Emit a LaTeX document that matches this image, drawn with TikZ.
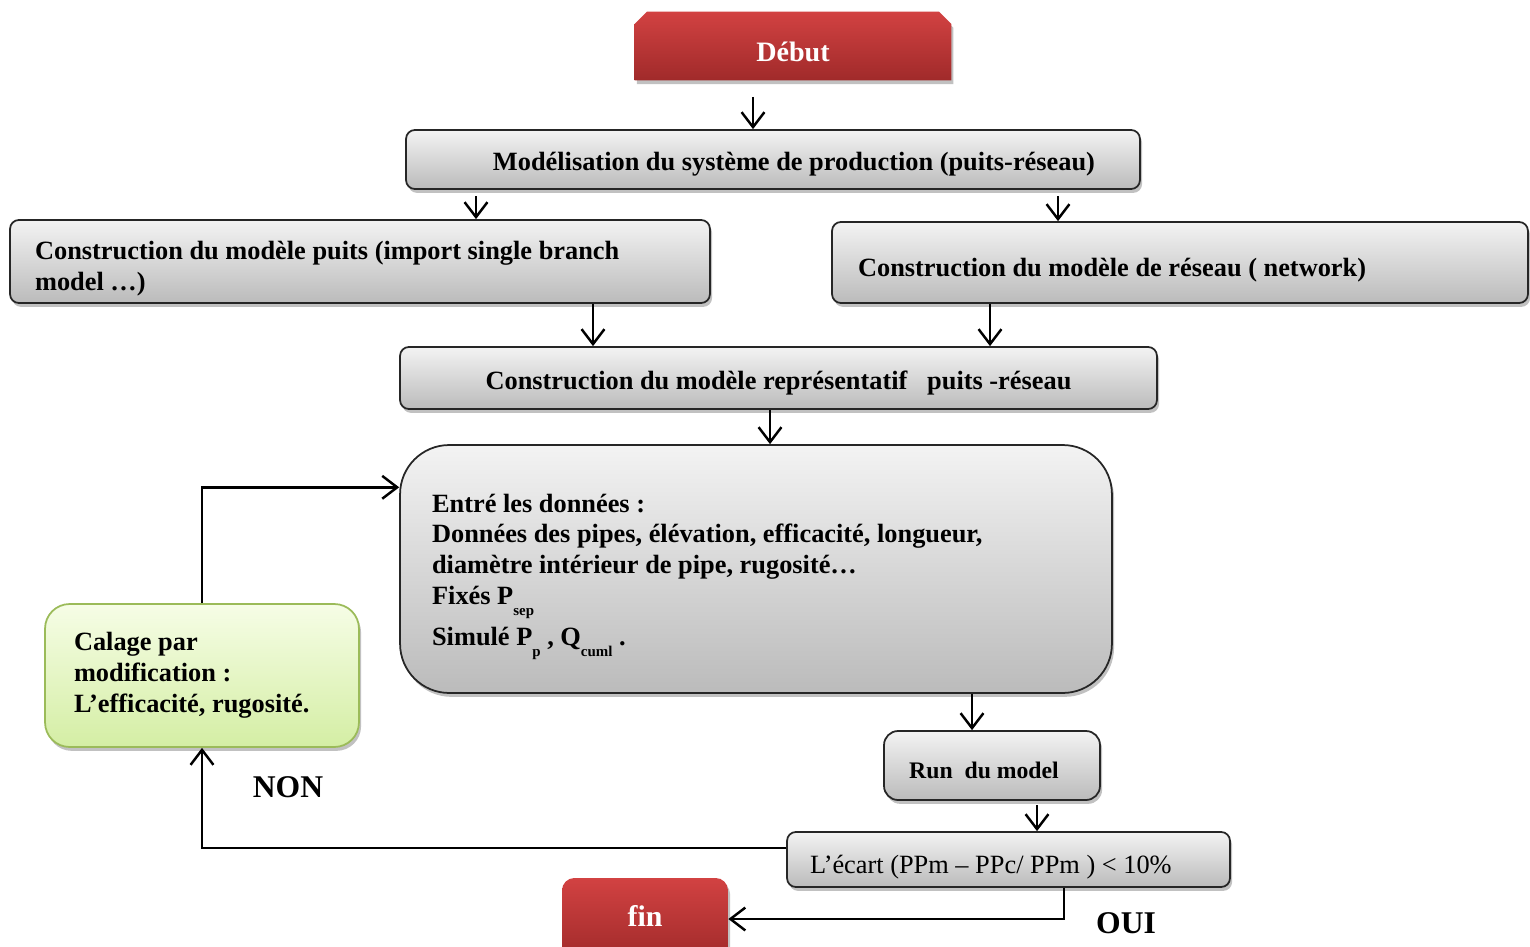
\documentclass[tikz,border=0pt]{standalone}
\usepackage{fontspec}
\setmainfont{Liberation Serif}
\usetikzlibrary{arrows.meta,shadows,backgrounds}
\definecolor{boxtop}{HTML}{F3F3F3}
\definecolor{boxbot}{HTML}{BBBBBB}
\definecolor{redtop}{HTML}{D24242}
\definecolor{redbot}{HTML}{A02A2A}
\definecolor{greentop}{HTML}{F6FDE6}
\definecolor{greenbot}{HTML}{D4EEA4}
\definecolor{greenedge}{HTML}{9BBB59}
\newcommand\lowsub[1]{\raisebox{-6pt}{\fontsize{8.5}{9}\selectfont #1}}
% lower a single line of text inside its box without changing the box size
\newcommand\sinkline[2][2.8pt]{\raisebox{-#1}[\height][\depth]{#2}}
\begin{document}
\begin{tikzpicture}[x=0.02cm,y=-0.02cm,
  bigbf/.style={font=\fontsize{15}{17.6}\selectfont\bfseries},
  softshadow/.style={drop shadow={shadow xshift=1.2pt,shadow yshift=-2.2pt,opacity=0.35,fill=black!70}},
  graybox/.style={draw=black!85,line width=1pt,rounded corners=5pt,
    top color=boxtop,bottom color=boxbot,softshadow,inner sep=0pt,bigbf},
  naturalspaces/.style={execute at begin node={\spaceskip=0pt\xspaceskip=0pt}},
  parbox/.style={align=left,execute at begin node={\spaceskip=0pt\xspaceskip=0pt\rule{0pt}{19pt}}},
  redshade/.style={top color=redtop,bottom color=redbot,softshadow},
  greenbox/.style={draw=greenedge,line width=1pt,rounded corners=14pt,
    top color=greentop,bottom color=greenbot,softshadow,inner sep=0pt,bigbf},
  flow/.style={line width=1.4pt,-{Straight Barb[length=8.5pt,width=13pt,line width=1.4pt]}},
  answer/.style={font=\fontsize{18}{20}\selectfont\bfseries,inner sep=0pt}
]
\useasboundingbox (0,0) rectangle (1530,946);

% start block with chamfered top corners
\node[minimum width=6.32cm,minimum height=1.36cm,inner sep=0pt,text=white,
      font=\fontsize{16}{19}\selectfont\bfseries] (deb) at (793,46) {\sinkline[3.4pt]{Début}};
\begin{scope}[on background layer]
  \path[redshade] (deb.south west) -- ([yshift=-7pt]deb.north west)
    -- ([xshift=7pt]deb.north west) -- ([xshift=-7pt]deb.north east)
    -- ([yshift=-7pt]deb.north east) -- (deb.south east) -- cycle;
\end{scope}

% process boxes
\node[graybox,minimum width=14.68cm,minimum height=1.18cm] (mod) at (773,159.5)
  {\hspace*{0.84cm}\sinkline{Modélisation du système de production (puits-réseau)}};
\node[graybox,parbox,minimum width=14cm,minimum height=1.66cm,text width=13cm,
      inner xsep=0.5cm] (well) at (360,261.5)
  {Construction du modèle puits (import single branch\\ model …)};
\node[graybox,parbox,minimum width=13.92cm,minimum height=1.62cm,text width=12.88cm,
      inner xsep=0.52cm] (net) at (1180,262.5)
  {Construction du modèle de réseau ( network)};
\node[graybox,minimum width=15.14cm,minimum height=1.24cm] (rep) at (778.5,378)
  {\sinkline{Construction du modèle représentatif \ \ puits -réseau}};
\node[graybox,parbox,rounded corners=28pt,minimum width=14.24cm,minimum height=4.96cm,
      text width=12.96cm,inner xsep=0.64cm] (data) at (756,569)
  {Entré les données :\\
   Données des pipes, élévation, efficacité, longueur,\\
   diamètre intérieur de pipe, rugosité…\\
   Fixés P\lowsub{sep}\\[4pt]
   Simulé P\lowsub{p} , Q\lowsub{cuml} .};
\node[graybox,rounded corners=8pt,minimum width=4.32cm,minimum height=1.38cm,
      font=\fontsize{13.5}{16}\selectfont\bfseries] (run) at (992,765.5)
  {\sinkline{Run \ du model}\hspace*{0.32cm}};
\node[graybox,parbox,minimum width=8.86cm,minimum height=1.1cm,text width=7.94cm,
      inner xsep=0.46cm,font=\fontsize{15}{17.6}\selectfont] (ecart) at (1008.5,859.5)
  {L’écart (PPm – PPc/ PPm ) < 10\%};

% end block
\node[redshade,rounded corners=7pt,minimum width=3.32cm,minimum height=1.64cm,
      inner sep=0pt,text=white,font=\fontsize{17}{20}\selectfont\bfseries] (fin) at (645,919)
  {\raisebox{3pt}{fin}};

% calibration block
\node[greenbox,naturalspaces,minimum width=6.28cm,minimum height=2.86cm,text width=5.12cm,
      inner xsep=0.58cm,align=left] (cal) at (202,675.5)
  {Calage par\\ modification :\\ L’efficacité, rugosité.};

% answer labels
\node[answer] (non) at (288,787) {NON};
\node[answer] (oui) at (1126,923) {OUI};

% connectors
\coordinate (a1) at (753,97);
\coordinate (a2) at (476,196);
\coordinate (a3) at (1058,196);
\coordinate (a4) at (593,0);
\coordinate (a5) at (990,0);
\coordinate (a6) at (770,410);
\coordinate (a7) at (972,0);
\coordinate (a8) at (1037,805);
\coordinate (a9) at (1064,0);
\draw[flow] (a1) -- (a1 |- mod.north);
\draw[flow] (a2) -- (a2 |- well.north);
\draw[flow] (a3) -- (a3 |- net.north);
\draw[flow] (a4 |- well.south) -- (a4 |- rep.north);
\draw[flow] (a5 |- net.south) -- (a5 |- rep.north);
\draw[flow] (a6) -- (a6 |- data.north);
\draw[flow] (a7 |- data.south) -- (a7 |- run.north);
\draw[flow] (a8) -- (a8 |- ecart.north);
\draw[flow] (a9 |- ecart.south) |- (fin.east);
\draw[flow] ([yshift=6.5pt]ecart.west) -| (cal.south);
\draw[flow] (cal.north) |- ([yshift=46.5pt]data.west);
\end{tikzpicture}
\end{document}
